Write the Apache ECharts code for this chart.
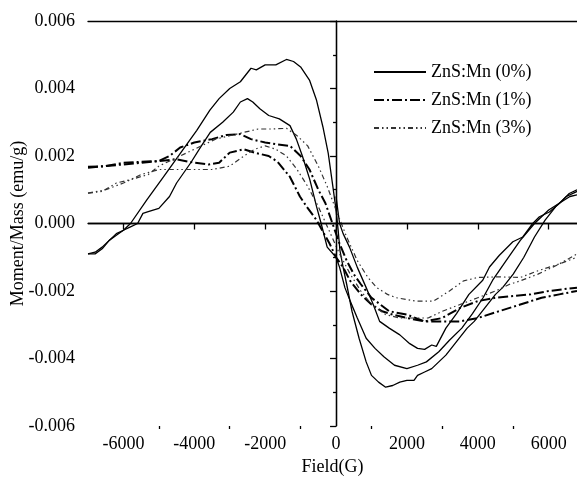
<!DOCTYPE html>
<html lang="en">
<head>
    <meta charset="UTF-8">
    <title>ZnS:Mn M-H</title>
    <script type="text/javascript" src="https://cdn.jsdelivr.net/npm/echarts@6/dist/echarts.min.js"></script>
</head>
<body style="margin:0">
<div id="main" style="width:577px;height:479px"></div>
<script type="text/javascript">
    // tick labels
    var xTickValues = [-6000, -4000, -2000, 0, 2000, 4000, 6000];
    var xMinorValues = [-5000, -3000, -1000, 1000, 3000, 5000];

    // ZnS:Mn (0%) - three solid branches, [field, moment]
    var mn0BranchA = [[-7000,-0.0009],[-6800,-0.00085],[-6600,-0.0007],[-6400,-0.0005],[-6200,-0.00035],[-6000,-0.0002],[-5800,0.0],
        [-5340,0.0007],[-4870,0.00138],[-4400,0.00207],[-3930,0.00276],[-3560,0.00336],[-3300,0.0037],[-3000,0.0040],[-2700,0.0042],
        [-2400,0.0046],[-2250,0.00455],[-2000,0.0047],[-1700,0.0047],[-1400,0.00486],[-1200,0.0048],[-1000,0.00464],[-750,0.00425],
        [-550,0.00365],[-370,0.00286],[-220,0.00208],[-90,0.0011],[0,0.0004],[60,-0.0002],[110,-0.0008],[200,-0.0013],[300,-0.0018],
        [450,-0.0026],[650,-0.0034],[850,-0.0041],[1000,-0.0045],[1200,-0.0047],[1400,-0.00485],[1600,-0.0048],[1800,-0.0047],
        [2000,-0.00465],[2200,-0.00465],[2300,-0.0045],[2500,-0.0044],[2700,-0.0043],[2900,-0.0041],[3100,-0.0039],[3400,-0.0035],
        [3700,-0.0031],[3900,-0.0029],[4200,-0.0025],[4500,-0.0021],[4700,-0.0019],[5000,-0.0015],[5300,-0.0010],[5600,-0.0004],
        [5900,0.0001],[6200,0.0005],[6500,0.0008],[6800,0.00095]];
    var mn0BranchB = [[-7000,-0.0009],[-6800,-0.0009],[-6600,-0.00075],[-6400,-0.0005],[-6200,-0.0003],[-6000,-0.0002],[-5800,-0.0001],
        [-5600,0.0],[-5450,0.0003],[-5300,0.00035],[-5000,0.00045],[-4700,0.0008],[-4500,0.0012],[-4100,0.0018],[-3800,0.0023],
        [-3550,0.0027],[-3200,0.0030],[-2900,0.0033],[-2700,0.0036],[-2500,0.0037],[-2350,0.0036],[-2150,0.0034],[-1900,0.0032],
        [-1600,0.0031],[-1300,0.0029],[-1120,0.0025],[-950,0.0020],[-830,0.0016],[-740,0.0013],[-550,0.0005],[-420,0.0],
        [-250,-0.0007],[0,-0.0010],[100,-0.0013],[250,-0.0019],[400,-0.0023],[600,-0.0028],[850,-0.0034],[1100,-0.0037],
        [1350,-0.00395],[1650,-0.0042],[2000,-0.0043],[2300,-0.0042],[2550,-0.0041],[2900,-0.0038],[3200,-0.00346],[3550,-0.0031],
        [3850,-0.00267],[4150,-0.0022],[4420,-0.00168],[4800,-0.0011],[5200,-0.0005],[5600,0.0],[6000,0.0004],[6300,0.0006],
        [6600,0.0008],[6800,0.00085]];
    var mn0BranchC = [[0,0.0008],[100,0.0],[200,-0.0003],[380,-0.0007],[600,-0.0013],[850,-0.0019],[1050,-0.0024],[1230,-0.0029],
        [1500,-0.0031],[1800,-0.0033],[2080,-0.00356],[2300,-0.0037],[2500,-0.00373],[2700,-0.0036],[2830,-0.00364],[3100,-0.0031],
        [3400,-0.00267],[3750,-0.0021],[4140,-0.00168],[4330,-0.00129],[4610,-0.00094],[4990,-0.00054],[5270,-0.0004],[5550,0.0],
        [5740,0.0002],[6020,0.00034],[6300,0.00059],[6580,0.00089],[6800,0.001]];

    // ZnS:Mn (1%) - dash-dot branches
    var mn1BranchA = [[-7000,0.00165],[-6500,0.0017],[-6000,0.00175],[-5500,0.0018],[-5000,0.00185],[-4700,0.0020],[-4400,0.00225],
        [-4000,0.0024],[-3500,0.0025],[-3100,0.00262],[-2700,0.00265],[-2400,0.0025],[-2000,0.0024],[-1700,0.00235],[-1300,0.0023],
        [-1000,0.0020],[-750,0.0016],[-500,0.0010],[-300,0.0006],[-100,0.0],[100,-0.0006],[300,-0.0011],[500,-0.0015],[700,-0.0018],
        [1000,-0.0022],[1250,-0.0024],[1500,-0.0026],[2000,-0.0027],[2500,-0.0029],[3000,-0.0029],[3500,-0.0029],[4000,-0.0028],
        [4600,-0.0026],[5200,-0.0024],[5800,-0.0022],[6300,-0.0021],[6800,-0.0020]];
    var mn1BranchB = [[-7000,0.00168],[-6500,0.0017],[-6000,0.0018],[-5500,0.00183],[-5000,0.00185],[-4500,0.0019],[-4000,0.0018],
        [-3600,0.00175],[-3300,0.0018],[-3000,0.0021],[-2600,0.0022],[-2300,0.0021],[-1900,0.0020],[-1650,0.00183],[-1300,0.00138],
        [-1020,0.0008],[-830,0.0005],[-550,0.0001],[-180,-0.0006],[0,-0.0010],[200,-0.0013],[400,-0.0017],[700,-0.0021],
        [1000,-0.0024],[1300,-0.0026],[1600,-0.0027],[2000,-0.0028],[2500,-0.0029],[3000,-0.0028],[3500,-0.0025],[4000,-0.0023],
        [4500,-0.0022],[5000,-0.00215],[5500,-0.0021],[6000,-0.0020],[6400,-0.00195],[6800,-0.0019]];

    // ZnS:Mn (3%) - light dash-dot-dot branches
    var mn3BranchA = [[-7000,0.0009],[-6600,0.00095],[-6200,0.0012],[-5800,0.0013],[-5300,0.00145],[-5000,0.0017],[-4600,0.0019],
        [-4200,0.0021],[-3800,0.0023],[-3400,0.0025],[-3000,0.0026],[-2600,0.0027],[-2200,0.0028],[-1800,0.0028],[-1400,0.00282],
        [-1100,0.0026],[-800,0.0023],[-500,0.0017],[-250,0.0011],[0,0.0004],[300,-0.0004],[600,-0.0011],[900,-0.0016],
        [1150,-0.0019],[1450,-0.0021],[1700,-0.0022],[2250,-0.0023],[2750,-0.0023],[3200,-0.0020],[3600,-0.0017],[4000,-0.0016],
        [4600,-0.00158],[5200,-0.0016],[5700,-0.0014],[6300,-0.0012],[6800,-0.0010]];
    var mn3BranchB = [[-7000,0.0009],[-6500,0.0010],[-6000,0.0012],[-5500,0.00145],[-5000,0.0016],[-4500,0.0016],[-4000,0.0016],
        [-3500,0.0016],[-3000,0.0017],[-2600,0.0020],[-2300,0.0022],[-2000,0.0023],[-1700,0.0022],[-1400,0.0020],[-1100,0.0016],
        [-800,0.0011],[-500,0.0005],[-200,-0.0002],[100,-0.0009],[400,-0.0015],[700,-0.0020],[1000,-0.0024],[1400,-0.0027],
        [1800,-0.0028],[2200,-0.0028],[2600,-0.0028],[3000,-0.0026],[3500,-0.0024],[4000,-0.0022],[4500,-0.0020],[4900,-0.0018],
        [5200,-0.0017],[5700,-0.0015],[6300,-0.0012],[6800,-0.0009]];

    var seriesNames = ['ZnS:Mn (0%)', 'ZnS:Mn (1%)', 'ZnS:Mn (3%)'];

    var chartDom = document.getElementById('main');
    var myChart = echarts.init(chartDom);

    var font = 'Liberation Serif';
    var solidStyle = {color: '#000', width: 1.3, type: 'solid'};
    var dashDotStyle = {color: '#000', width: 2, type: [10, 3, 2, 3]};
    var dashDotDotStyle = {color: '#333', width: 1.2, type: [5, 3, 1.5, 3, 1.5, 3]};

    function line(name, data, style) {
        return {
            name: name,
            type: 'line',
            data: data,
            symbol: 'none',
            lineStyle: style,
            itemStyle: {color: '#000'},
            animation: false
        };
    }

    var series = [
        line(seriesNames[0], mn0BranchA, solidStyle),
        line(seriesNames[0], mn0BranchB, solidStyle),
        line(seriesNames[0], mn0BranchC, solidStyle),
        line(seriesNames[1], mn1BranchA, dashDotStyle),
        line(seriesNames[1], mn1BranchB, dashDotStyle),
        line(seriesNames[2], mn3BranchA, dashDotDotStyle),
        line(seriesNames[2], mn3BranchB, dashDotDotStyle)
    ];
    // zero lines
    series[0].markLine = {
        silent: true,
        symbol: ['none', 'none'],
        label: {show: false},
        lineStyle: {color: '#000', type: 'solid', width: 1.3},
        data: [{xAxis: 0}, {yAxis: 0}],
        animation: false
    };

    var option = {
        backgroundColor: '#fff',
        textStyle: {fontFamily: font},
        grid: {left: 88, right: 0, top: 21, bottom: 53, containLabel: false, outerBoundsMode: 'none'},
        legend: {
            orient: 'vertical',
            left: 368,
            top: 58,
            itemWidth: 52,
            itemHeight: 14,
            itemGap: 10,
            itemStyle: {opacity: 0},
            textStyle: {fontFamily: font, fontSize: 18, color: '#000'},
            data: seriesNames
        },
        xAxis: [{
            type: 'value',
            min: -7000,
            max: 6800,
            name: 'Field(G)',
            nameLocation: 'middle',
            nameGap: 32,
            nameMoveOverlap: false,
            nameTextStyle: {fontFamily: font, fontSize: 18, color: '#000'},
            splitLine: {show: false},
            axisLine: {lineStyle: {color: '#000', width: 1.3}},
            axisTick: {customValues: xTickValues, length: 6, lineStyle: {color: '#000', width: 1.3}},
            axisLabel: {
                customValues: xTickValues, fontFamily: font, fontSize: 18, color: '#000', margin: 9,
                formatter: function (v) { return String(v); }
            }
        }, {
            type: 'value',
            position: 'top',
            min: -7000,
            max: 6800,
            splitLine: {show: false},
            axisLine: {show: true, lineStyle: {color: '#000', width: 1.3}},
            axisTick: {show: false},
            axisLabel: {show: false}
        }, {
            type: 'value',
            position: 'bottom',
            min: -7000,
            max: 6800,
            splitLine: {show: false},
            axisLine: {show: false},
            axisTick: {customValues: xMinorValues, length: 3, lineStyle: {color: '#000', width: 1.3}},
            axisLabel: {show: false}
        }],
        yAxis: {
            type: 'value',
            min: -0.006,
            max: 0.006,
            interval: 0.002,
            name: 'Moment/Mass (emu/g)',
            nameLocation: 'middle',
            nameGap: 61,
            nameMoveOverlap: false,
            nameTextStyle: {fontFamily: font, fontSize: 18, color: '#000'},
            splitLine: {show: false},
            axisLine: {lineStyle: {color: '#000', width: 1.3}},
            axisTick: {length: 6, lineStyle: {color: '#000', width: 1.3}},
            minorTick: {show: true, splitNumber: 2, length: 3, lineStyle: {color: '#000', width: 1.3}},
            axisLabel: {
                fontFamily: font, fontSize: 18, color: '#000', margin: 13,
                formatter: function (v) { return v.toFixed(3); }
            }
        },
        series: series
    };

    option && myChart.setOption(option);
</script>
</body>
</html>
